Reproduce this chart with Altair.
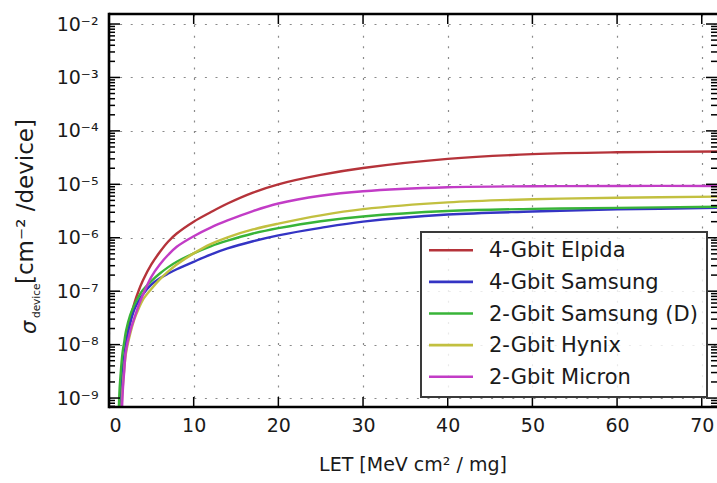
import altair as alt
import pandas as pd

# ---------------- data ----------------
LET = [1.0, 1.2, 1.4, 1.6, 1.8, 2.0, 2.5, 3, 3.5, 4, 5, 6, 7, 8, 10, 12, 14, 17, 20, 25, 30, 40, 50, 60, 72]

series = ["4-Gbit Elpida", "4-Gbit Samsung", "2-Gbit Samsung (D)", "2-Gbit Hynix", "2-Gbit Micron"]
colors = ["#b5333a", "#3434c4", "#38b438", "#c2c040", "#c23cc6"]

elpida = [1e-13, 1e-11, 5.0e-10, 2.0e-9, 5.0e-9, 1.0e-8, 3.0e-8, 6.0e-8, 1.02e-7, 1.58e-7, 3.16e-7, 5.4e-7, 8.5e-7,
          1.2e-6, 2.0e-6, 3.0e-6, 4.37e-6, 7.0e-6, 1.0e-5, 1.5e-5, 2.02e-5, 2.99e-5, 3.67e-5, 3.98e-5, 4.11e-5]
samsung4 = [1e-13, 1e-10, 1.12e-9, 3.2e-9, 6.0e-9, 1.0e-8, 2.5e-8, 4.6e-8, 6.6e-8, 8.7e-8, 1.32e-7, 1.74e-7, 2.14e-7,
            2.57e-7, 3.55e-7, 4.84e-7, 6.3e-7, 8.6e-7, 1.11e-6, 1.53e-6, 2.0e-6, 2.72e-6, 3.09e-6, 3.39e-6, 3.63e-6]
samsung2d = [1e-13, 1.0e-9, 3.2e-9, 7.1e-9, 1.12e-8, 1.78e-8, 3.55e-8, 5.6e-8, 7.9e-8, 1.05e-7, 1.55e-7, 2.14e-7, 2.82e-7,
             3.55e-7, 5.1e-7, 6.9e-7, 8.8e-7, 1.2e-6, 1.51e-6, 2.04e-6, 2.5e-6, 3.16e-6, 3.47e-6, 3.63e-6, 3.8e-6]
hynix = [1e-13, 1e-11, 3.2e-10, 1.41e-9, 3.5e-9, 6.8e-9, 1.58e-8, 3.0e-8, 4.7e-8, 6.9e-8, 1.1e-7, 1.66e-7, 2.34e-7,
         3.16e-7, 5.1e-7, 7.6e-7, 1.02e-6, 1.43e-6, 1.84e-6, 2.63e-6, 3.43e-6, 4.6e-6, 5.25e-6, 5.6e-6, 5.9e-6]
micron = [1e-13, 1e-11, 1e-10, 1.12e-9, 3.2e-9, 7.6e-9, 1.78e-8, 3.16e-8, 5.4e-8, 8.5e-8, 1.86e-7, 3.16e-7, 4.8e-7,
          6.8e-7, 1.07e-6, 1.55e-6, 2.11e-6, 3.16e-6, 4.37e-6, 6.1e-6, 7.4e-6, 8.8e-6, 9.2e-6, 9.33e-6, 9.33e-6]

x_ticks = [0, 10, 20, 30, 40, 50, 60, 70]
y_major = [1e-9, 1e-8, 1e-7, 1e-6, 1e-5, 1e-4, 1e-3, 1e-2]
y_min, y_max = 6.8e-10, 1.54e-2
y_minor = [m * 10.0 ** e for e in range(-10, -1) for m in range(2, 10)
           if y_min <= m * 10.0 ** e <= y_max]

# ---------------- layout ----------------
W, H = 608, 393
FONT = "DejaVu Sans"
TXT = "#1a1a1a"

rows = []
for name, vals in zip(series, [elpida, samsung4, samsung2d, hynix, micron]):
    for l, v in zip(LET, vals):
        rows.append({"series": name, "LET": l, "sigma": v})
df = pd.DataFrame(rows)
one = pd.DataFrame({"a": [0]})

xs = alt.Scale(domain=[0, 71.8], nice=False, zero=False)
ys = alt.Scale(type="log", domain=[y_min, y_max], nice=False)
cs = alt.Scale(domain=series, range=colors)

lbl = ("'10' + (datum.value < 1 ? '\u207b' : '') + "
       "['\u2070','\u00b9','\u00b2','\u00b3','\u2074','\u2075','\u2076','\u2077','\u2078','\u2079']"
       "[abs(round(log(datum.value) / LN10))]")

grid_kw = dict(grid=True, gridDash=[2, 8.6], gridColor="#8a8a8a", gridWidth=1.2,
               ticks=False, domain=False, title=None, labelFont=FONT, labelColor=TXT)
x_axis = alt.Axis(values=x_ticks, format="d", labelFontSize=19, labelPadding=9, **grid_kw)
y_axis = alt.Axis(values=y_major, labelExpr=lbl, labelFontSize=19, labelPadding=11, **grid_kw)

lines = alt.Chart(df).mark_line(clip=True, interpolate="catmull-rom", strokeWidth=2.4).encode(
    x=alt.X("LET:Q", scale=xs, axis=x_axis),
    y=alt.Y("sigma:Q", scale=ys, axis=y_axis),
    color=alt.Color("series:N", scale=cs, legend=None),
)


def yticks(vals, x1, x2):
    return alt.Chart(pd.DataFrame({"v": vals})).mark_rule(color="black", strokeWidth=1.5).encode(
        y=alt.Y("v:Q", scale=ys, axis=y_axis), x=alt.value(x1), x2=alt.value(x2))


def xticks(vals, y1, y2):
    return alt.Chart(pd.DataFrame({"v": vals})).mark_rule(color="black", strokeWidth=1.5).encode(
        x=alt.X("v:Q", scale=xs, axis=x_axis), y=alt.value(y1), y2=alt.value(y2))


ticks = [
    yticks(y_major, 0, 11), yticks(y_major, W, W - 11),
    yticks(y_minor, 0, 6), yticks(y_minor, W, W - 6),
    xticks(x_ticks[1:], H, H - 10), xticks(x_ticks[1:], 0, 10),
]

frame = [
    alt.Chart(one).mark_rule(color="black", strokeWidth=2.6).encode(
        x=alt.value(0), y=alt.value(-1.3), y2=alt.value(H + 1.3)),
    alt.Chart(one).mark_rule(color="black", strokeWidth=2.6).encode(
        x=alt.value(0), x2=alt.value(W), y=alt.value(0)),
    alt.Chart(one).mark_rule(color="black", strokeWidth=2.6).encode(
        x=alt.value(0), x2=alt.value(W), y=alt.value(H)),
]

# legend (box, line samples, labels)
LX, LY, LW, LH = 312, 218, 286, 165
legend = [alt.Chart(one).mark_rect(fill="white", fillOpacity=0.82, stroke="#3a3a3a", strokeWidth=2).encode(
    x=alt.value(LX), x2=alt.value(LX + LW), y=alt.value(LY), y2=alt.value(LY + LH))]
for i, (name, col) in enumerate(zip(series, colors)):
    yy = LY + 18.3 + 31.6 * i
    legend.append(alt.Chart(one).mark_rule(color=col, strokeWidth=2.6).encode(
        x=alt.value(LX + 8), x2=alt.value(LX + 52), y=alt.value(yy)))
    legend.append(alt.Chart(one).mark_text(align="left", baseline="middle", font=FONT, fontSize=21,
                                           color=TXT).encode(
        x=alt.value(LX + 68), y=alt.value(yy + 1), text=alt.value(name)))

# axis titles
titles = [
    alt.Chart(one).mark_text(align="center", baseline="middle", font=FONT, fontSize=19, color=TXT).encode(
        x=alt.value(W / 2), y=alt.value(451), text=alt.value("LET  [MeV cm\u00b2 / mg]")),
    alt.Chart(one).mark_text(align="left", baseline="alphabetic", font=FONT, fontSize=21, fontStyle="italic",
                             angle=270, color=TXT).encode(
        x=alt.value(-73), y=alt.value(320), text=alt.value("\u03c3")),
    alt.Chart(one).mark_text(align="left", baseline="alphabetic", font=FONT, fontSize=10.5,
                             angle=270, color=TXT).encode(
        x=alt.value(-69), y=alt.value(304), text=alt.value("device")),
    alt.Chart(one).mark_text(align="left", baseline="alphabetic", font=FONT, fontSize=23,
                             angle=270, color=TXT).encode(
        x=alt.value(-76), y=alt.value(270), text=alt.value("[cm\u207b\u00b2 /device]")),
]

chart = alt.layer(lines, *ticks, *frame, *legend, *titles).properties(
    width=W, height=H,
    autosize=alt.AutoSizeParams(type="none"),
    padding={"left": 109, "top": 14, "right": 0, "bottom": 76},
).configure_view(stroke="transparent").configure(font=FONT)

chart.save("out.html", embed_options={"renderer": "svg", "actions": False})
